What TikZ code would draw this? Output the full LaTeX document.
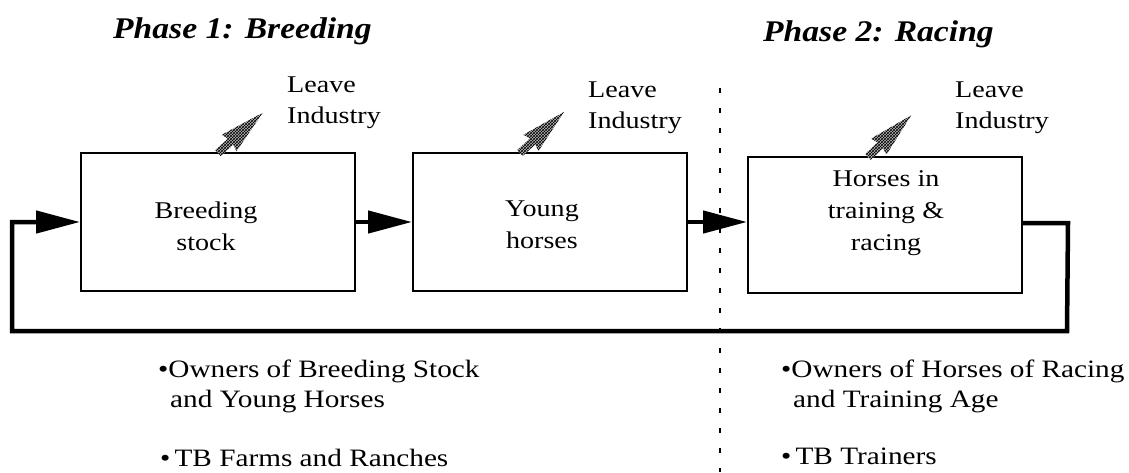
\documentclass[tikz,border=0pt]{standalone}
\usepackage{fontspec}
\setmainfont{Liberation Serif}[FakeStretch=1.17]
\newfontfamily\headfont{Liberation Serif}[FakeStretch=1.12]
\usetikzlibrary{arrows.meta,patterns}

\tikzset{
  txt/.style={font=\fontsize{24}{31}\selectfont, inner sep=0pt},
  phase/.style={font=\headfont\fontsize{30}{34}\selectfont\bfseries\itshape, inner sep=0pt, anchor=base west},
  stage/.style={draw, line width=2pt, minimum width=274pt, minimum height=138pt, inner sep=0pt},
  stagetext/.style={txt, align=center, font=\fontsize{24}{32}\selectfont},
  leavetext/.style={txt, align=left, anchor=base west},
  party/.style={inner sep=0pt, align=left, anchor=base west, font=\fontsize{25}{30}\selectfont},
  flow/.style={line width=4.5pt, line join=miter, -{Triangle[length=44pt,width=22pt]}},
  divider/.style={line width=1.6pt, dash pattern=on 5pt off 15pt},
  exitarrow/.pic={
    \fill[gray!55] (0,-4) -- (17,-4) -- (15,-11) -- (60,0) -- (15,11) -- (17,4) -- (0,4) -- cycle;
    \fill[pattern=crosshatch, pattern color=black] (0,-4) -- (17,-4) -- (15,-11) -- (60,0) -- (15,11) -- (17,4) -- (0,4) -- cycle;
  }
}

\begin{document}
\begin{tikzpicture}[x=1pt, y=-1pt]
\useasboundingbox (0,0) rectangle (1129,472);

% phase headings
\node[phase] (ph1) at (113,38) {Phase 1: Breeding};
\node[phase] (ph2) at (763,41) {Phase 2: Racing};

% stages
\node[stage] (b1) at (218,222) {};
\node[stage] (b2) at (550,222) {};
\node[stage, minimum height=136pt] (b3) at (885,225) {};

\node[stagetext] (b1t) at (206,226) {Breeding\\stock};
\node[stagetext] (b2t) at (542,225) {Young\\horses};
\node[stagetext] (b3t) at (886,213) {Horses in\\training \&\\racing};

% exits from the industry
\pic[rotate=42] at (218,153) {exitarrow};
\pic[rotate=43] at (520,153) {exitarrow};
\pic[rotate=44] at (868,157) {exitarrow};

\node[leavetext] (l1) at (287,123) {Leave\\Industry};
\node[leavetext] (l2) at (588,128) {Leave\\Industry};
\node[leavetext] (l3) at (955,128) {Leave\\Industry};

% divider between the two phases
\coordinate (dtop) at (720,88);
\coordinate (dbot) at (720,472);
\draw[divider] (dtop) -- (dbot);

% flow between stages
\draw[flow] (b1.east) -- (b2.west);
\draw[flow] (b2.east) -- (b2.east -| b3.west);

% return loop
\coordinate (lr) at (1067,331);
\coordinate (ll) at (12,331);
\draw[flow] (b3.east) ++(0,-2) -- ++(45,0) -- (lr) -- (ll) -- (ll |- b1.west) -- (b1.west);

% participants
\node[party] (p1) at (158,407)
  {\textbullet Owners of Breeding Stock\\\hspace*{12pt}and Young Horses};
\node[party] (p2) at (160,466) {\textbullet\,TB Farms and Ranches};
\node[party] (p3) at (781,407)
  {\textbullet Owners of Horses of Racing\\\hspace*{12pt}and Training Age};
\node[party] (p4) at (781,464) {\textbullet\,TB Trainers};
\end{tikzpicture}
\end{document}
